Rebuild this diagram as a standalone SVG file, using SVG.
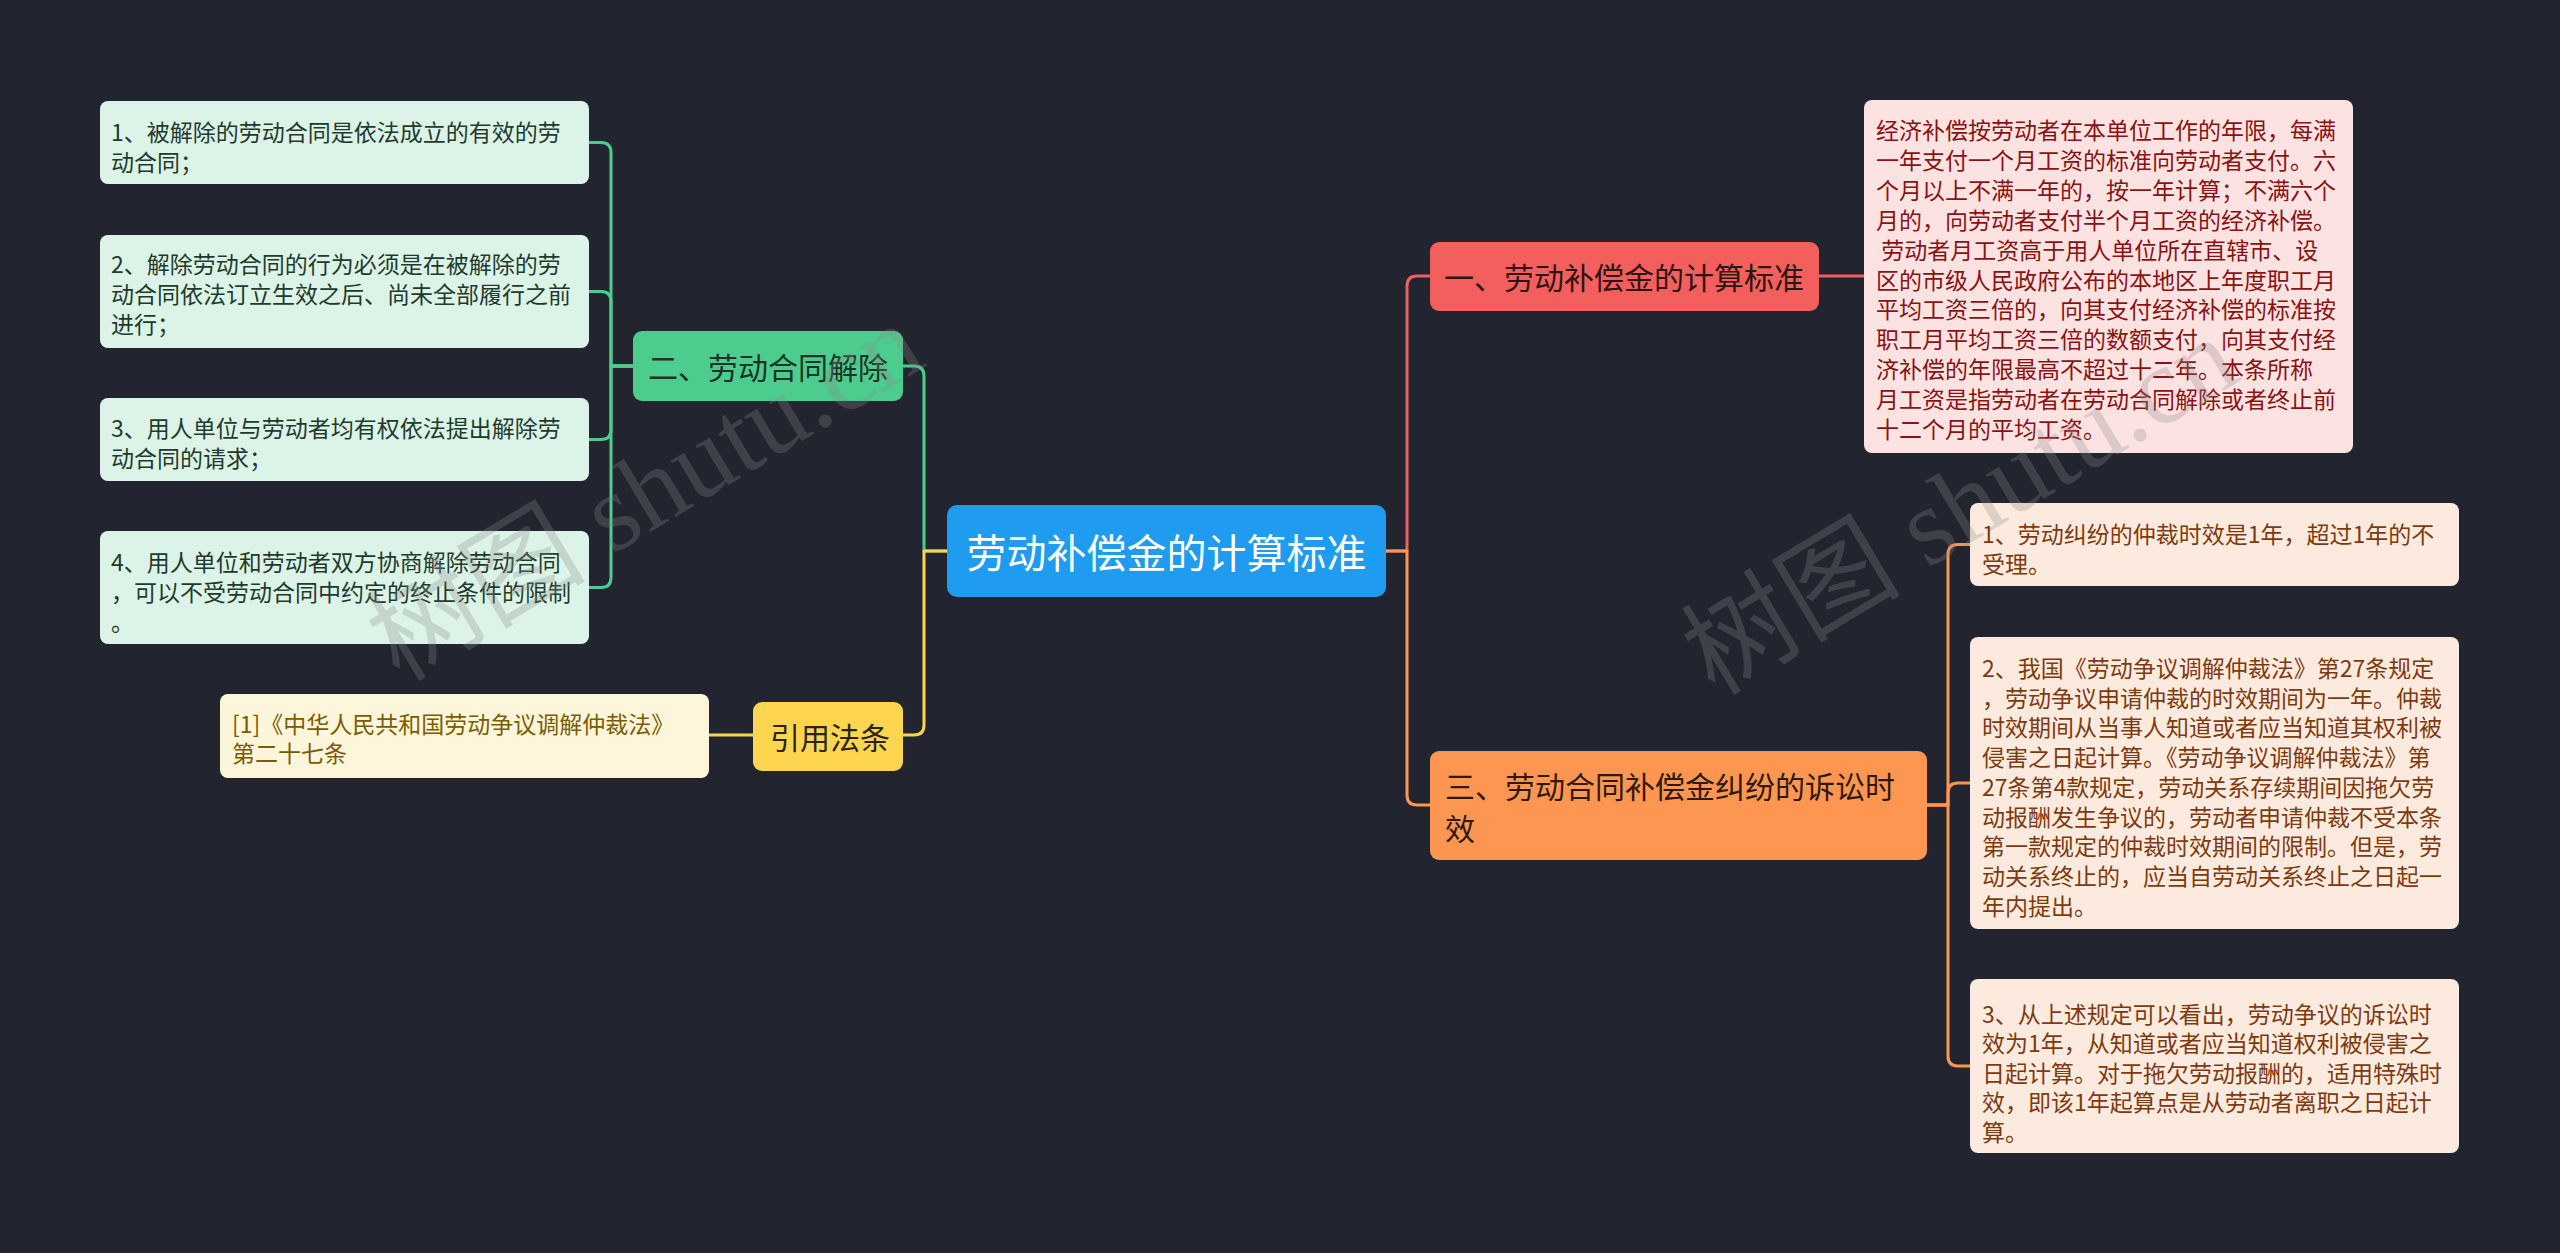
<svg xmlns="http://www.w3.org/2000/svg" width="2560" height="1253" viewBox="0 0 2560 1253">
<style>
text{font-family:"Noto Sans CJK SC","Noto Sans",sans-serif;dominant-baseline:central}
.c{fill:none;stroke-width:3;stroke-linecap:round;stroke-linejoin:round}
.t23{font-size:23px}
.t30{font-size:30px}
.wm{font-family:"Liberation Serif","Noto Sans CJK SC",serif;font-size:110px;fill:#8a8a8a;opacity:0.28}
</style>
<rect width="2560" height="1253" fill="#22252f"/>
<g id="connectors">
<path class="c" stroke="#4ccd8e" d="M633 366 H611 V152.5 Q611 142.5 601 142.5 H589"/>
<path class="c" stroke="#4ccd8e" d="M633 366 H611 V301.5 Q611 291.5 601 291.5 H589"/>
<path class="c" stroke="#4ccd8e" d="M633 366 H611 V429.5 Q611 439.5 601 439.5 H589"/>
<path class="c" stroke="#4ccd8e" d="M633 366 H611 V577.5 Q611 587.5 601 587.5 H589"/>
<path class="c" stroke="#4ccd8e" d="M947 551 H924 V376 Q924 366 914 366 H903"/>
<path class="c" stroke="#fdd54e" d="M947 551 H924 V725 Q924 735 914 735 H903"/>
<path class="c" stroke="#fdd54e" d="M753 735 H709"/>
<path class="c" stroke="#f0605f" d="M1386 551 H1407 V286 Q1407 276 1417 276 H1430"/>
<path class="c" stroke="#fd9650" d="M1386 551 H1407 V795 Q1407 805 1417 805 H1430"/>
<path class="c" stroke="#f0605f" d="M1819 276 H1864"/>
<path class="c" stroke="#fd9650" d="M1926 805 H1948 V554.5 Q1948 544.5 1958 544.5 H1970"/>
<path class="c" stroke="#fd9650" d="M1926 805 H1948 V793 Q1948 783 1958 783 H1970"/>
<path class="c" stroke="#fd9650" d="M1926 805 H1948 V1056 Q1948 1066 1958 1066 H1970"/>
</g>
<g id="root">
<rect x="947" y="505" width="439" height="92" rx="10" fill="#1f9bef"/>
<text x="1166.5" y="551" font-size="40" fill="#ffffff" text-anchor="middle">劳动补偿金的计算标准</text>
</g>
<g id="n-green">
<rect x="633" y="331" width="270" height="70" rx="9" fill="#4ccd8e"/>
<text class="t30" x="648" y="366" fill="#1c3327">二、劳动合同解除</text>
</g>
<g id="g1">
<rect x="100" y="101" width="489" height="83" rx="8" fill="#dcf4e7"/>
<text class="t23" fill="#1e3a2c"><tspan x="111" y="131">1、被解除的劳动合同是依法成立的有效的劳</tspan><tspan x="111" y="161">动合同；</tspan></text>
</g>
<g id="g2">
<rect x="100" y="235" width="489" height="113" rx="8" fill="#dcf4e7"/>
<text class="t23" fill="#1e3a2c"><tspan x="111" y="263">2、解除劳动合同的行为必须是在被解除的劳</tspan><tspan x="111" y="293">动合同依法订立生效之后、尚未全部履行之前</tspan><tspan x="111" y="323">进行；</tspan></text>
</g>
<g id="g3">
<rect x="100" y="398" width="489" height="83" rx="8" fill="#dcf4e7"/>
<text class="t23" fill="#1e3a2c"><tspan x="111" y="427">3、用人单位与劳动者均有权依法提出解除劳</tspan><tspan x="111" y="457">动合同的请求；</tspan></text>
</g>
<g id="g4">
<rect x="100" y="531" width="489" height="113" rx="8" fill="#dcf4e7"/>
<text class="t23" fill="#1e3a2c"><tspan x="111" y="561">4、用人单位和劳动者双方协商解除劳动合同</tspan><tspan x="111" y="591">，可以不受劳动合同中约定的终止条件的限制</tspan><tspan x="111" y="621">。</tspan></text>
</g>
<g id="n-yellow">
<rect x="753" y="702" width="150" height="69" rx="9" fill="#fdd54e"/>
<text class="t30" x="770" y="736" fill="#2a2410">引用法条</text>
</g>
<g id="cite">
<rect x="220" y="694" width="489" height="84" rx="8" fill="#fef6db"/>
<text class="t23" fill="#7a5c00"><tspan x="232" y="723">[1]《中华人民共和国劳动争议调解仲裁法》</tspan><tspan x="232" y="752">第二十七条</tspan></text>
</g>
<g id="n-red">
<rect x="1430" y="242" width="389" height="69" rx="9" fill="#f25f5c"/>
<text class="t30" x="1444" y="276" fill="#2e1414">一、劳动补偿金的计算标准</text>
</g>
<g id="pink">
<rect x="1864" y="100" width="489" height="353" rx="8" fill="#fde2e2"/>
<text class="t23" fill="#8a1212"><tspan x="1876" y="129">经济补偿按劳动者在本单位工作的年限，每满</tspan><tspan x="1876" y="159">一年支付一个月工资的标准向劳动者支付。六</tspan><tspan x="1876" y="189">个月以上不满一年的，按一年计算；不满六个</tspan><tspan x="1876" y="219">月的，向劳动者支付半个月工资的经济补偿。</tspan><tspan x="1876" y="249"> 劳动者月工资高于用人单位所在直辖市、设</tspan><tspan x="1876" y="279">区的市级人民政府公布的本地区上年度职工月</tspan><tspan x="1876" y="308">平均工资三倍的，向其支付经济补偿的标准按</tspan><tspan x="1876" y="338">职工月平均工资三倍的数额支付，向其支付经</tspan><tspan x="1876" y="368">济补偿的年限最高不超过十二年。本条所称</tspan><tspan x="1876" y="398">月工资是指劳动者在劳动合同解除或者终止前</tspan><tspan x="1876" y="428">十二个月的平均工资。</tspan></text>
</g>
<g id="n-orange">
<rect x="1430" y="751" width="497" height="109" rx="9" fill="#fd9650"/>
<text class="t30" fill="#2e1a0c"><tspan x="1445" y="785">三、劳动合同补偿金纠纷的诉讼时</tspan><tspan x="1445" y="827">效</tspan></text>
</g>
<g id="o1">
<rect x="1970" y="503" width="489" height="83" rx="8" fill="#fdeade"/>
<text class="t23" fill="#7d3a0e"><tspan x="1982" y="533">1、劳动纠纷的仲裁时效是1年，超过1年的不</tspan><tspan x="1982" y="563">受理。</tspan></text>
</g>
<g id="o2">
<rect x="1970" y="637" width="489" height="292" rx="8" fill="#fdeade"/>
<text class="t23" fill="#7d3a0e"><tspan x="1982" y="667">2、我国《劳动争议调解仲裁法》第27条规定</tspan><tspan x="1982" y="697">，劳动争议申请仲裁的时效期间为一年。仲裁</tspan><tspan x="1982" y="726">时效期间从当事人知道或者应当知道其权利被</tspan><tspan x="1982" y="756">侵害之日起计算。《劳动争议调解仲裁法》第</tspan><tspan x="1982" y="786">27条第4款规定，劳动关系存续期间因拖欠劳</tspan><tspan x="1982" y="816">动报酬发生争议的，劳动者申请仲裁不受本条</tspan><tspan x="1982" y="845">第一款规定的仲裁时效期间的限制。但是，劳</tspan><tspan x="1982" y="875">动关系终止的，应当自劳动关系终止之日起一</tspan><tspan x="1982" y="905">年内提出。</tspan></text>
</g>
<g id="o3">
<rect x="1970" y="979" width="489" height="174" rx="8" fill="#fdeade"/>
<text class="t23" fill="#7d3a0e"><tspan x="1982" y="1013">3、从上述规定可以看出，劳动争议的诉讼时</tspan><tspan x="1982" y="1042">效为1年，从知道或者应当知道权利被侵害之</tspan><tspan x="1982" y="1072">日起计算。对于拖欠劳动报酬的，适用特殊时</tspan><tspan x="1982" y="1101">效，即该1年起算点是从劳动者离职之日起计</tspan><tspan x="1982" y="1131">算。</tspan></text>
</g>
<g id="watermarks">
<text class="wm" x="645" y="492" text-anchor="middle" transform="rotate(-31 645 492)">树图 shutu.cn</text>
<text class="wm" x="1960" y="506" text-anchor="middle" transform="rotate(-31 1960 506)">树图 shutu.cn</text>
</g>
</svg>
